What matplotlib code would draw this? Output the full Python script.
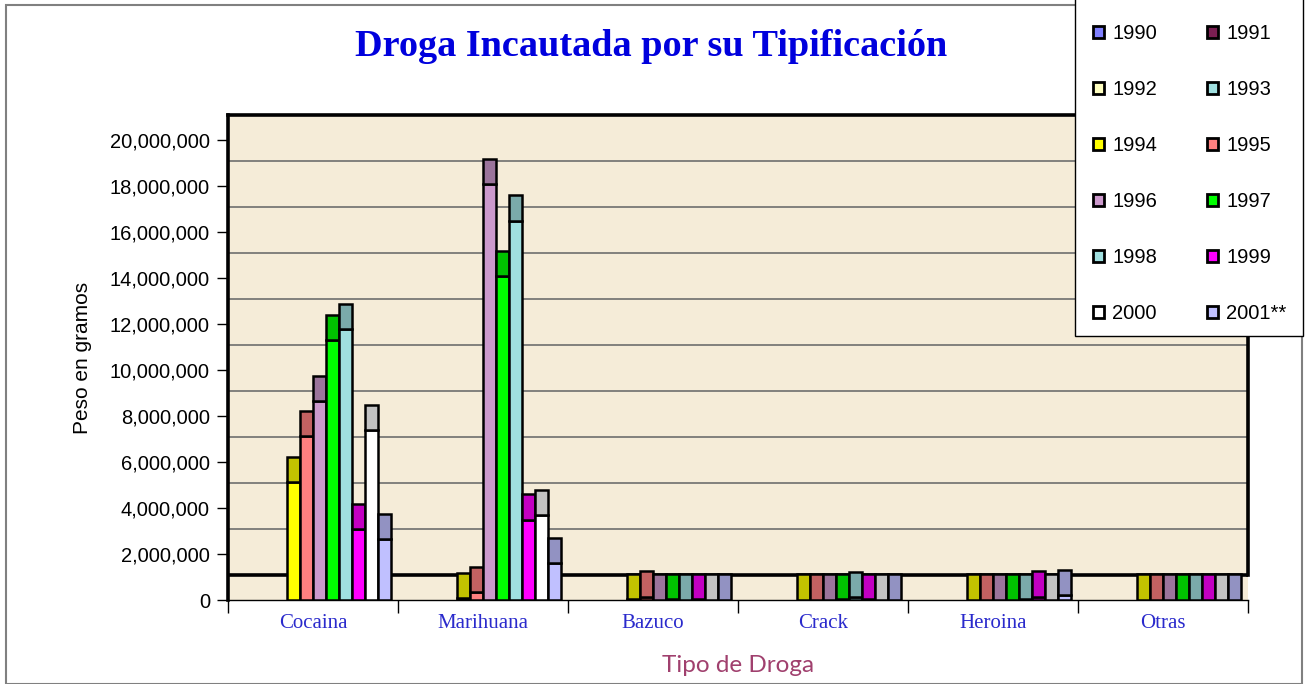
import numpy as np
import matplotlib
matplotlib.use("Agg")
import matplotlib.pyplot as plt
from matplotlib.patches import Patch, Rectangle
from matplotlib.ticker import FuncFormatter
import matplotlib.colors as mcolors

nan = np.nan
categories = ["Cocaina", "Marihuana", "Bazuco", "Crack", "Heroina", "Otras"]
years = ["1990", "1991", "1992", "1993", "1994", "1995", "1996", "1997",
         "1998", "1999", "2000", "2001**"]
colors = ["#8080FF", "#7A1F52", "#FFFFC0", "#A0E0E0", "#FFFF00", "#FF8080",
          "#CC99CC", "#00FF00", "#A0E0E0", "#FF00FF", "#FFFFFF", "#C0C0FF"]

# values in grams per year (1990-1993 have no data)
v1990 = [nan, nan, nan, nan, nan, nan]
v1991 = [nan, nan, nan, nan, nan, nan]
v1992 = [nan, nan, nan, nan, nan, nan]
v1993 = [nan, nan, nan, nan, nan, nan]
v1994 = [5130000, 100000, 30000, 20000, 20000, 20000]
v1995 = [7150000, 350000, 150000, 20000, 20000, 20000]
v1996 = [8650000, 18100000, 20000, 20000, 20000, 20000]
v1997 = [11300000, 14100000, 30000, 30000, 20000, 20000]
v1998 = [11780000, 16500000, 20000, 120000, 30000, 20000]
v1999 = [3100000, 3500000, 30000, 30000, 150000, 20000]
v2000 = [7380000, 3700000, 20000, 20000, 20000, 20000]
v2001 = [2650000, 1620000, 20000, 20000, 200000, 20000]
series = [v1990, v1991, v1992, v1993, v1994, v1995, v1996, v1997,
          v1998, v1999, v2000, v2001]
yticks = list(range(0, 20000001, 2000000))

W, H = 1306, 684
fig = plt.figure(figsize=(W / 100, H / 100), dpi=100)
fig.patch.set_facecolor("white")

# outer chart border
fig.add_artist(Rectangle((6 / W, 0), (1302 - 6) / W, 1 - 5 / H,
                         transform=fig.transFigure, fill=False,
                         edgecolor="#808080", linewidth=1.5))

ax = fig.add_axes([228 / W, 1 - 600 / H, (1248 - 228) / W, (600 - 115) / H])
wall = "#F5ECD8"
ax.set_facecolor(wall)

depth = 1090000  # pseudo-3D depth in data units
ax.set_xlim(-0.5, len(categories) - 0.5)
ax.set_ylim(0, yticks[-1] + depth)

# back-wall gridlines
for t in yticks[1:-1]:
    ax.axhline(t + depth, color="#6E6E6E", linewidth=1.2, zorder=1)
ax.axhline(depth, color="black", linewidth=2.6, zorder=1)

bw = 0.076
n = len(series)
x0 = np.arange(len(categories))
for i, vals in enumerate(series):
    c = np.array(mcolors.to_rgb(colors[i]))
    cap = tuple(c * 0.76)
    xs = x0 + (i - (n - 1) / 2) * bw
    for x, v in zip(xs, vals):
        if np.isnan(v):
            continue
        ax.bar(x, v, width=bw, color=colors[i], edgecolor="black",
               linewidth=1.8, zorder=3)
        ax.bar(x, depth, bottom=v, width=bw, color=cap, edgecolor="black",
               linewidth=1.8, zorder=3)

# spines
for s in ["top", "left"]:
    ax.spines[s].set_linewidth(2.6)
ax.spines["right"].set_visible(False)
ax.axvline(len(categories) - 0.5, ymin=depth / (yticks[-1] + depth), ymax=1,
           color="black", linewidth=2.6, clip_on=False, zorder=5)
ax.spines["bottom"].set_linewidth(1.0)

ax.set_yticks(yticks)
ax.yaxis.set_major_formatter(FuncFormatter(lambda v, p: f"{int(v):,}"))
ax.tick_params(axis="y", direction="out", length=8, width=1, pad=5,
               labelsize=14.5)
for lab in ax.get_yticklabels():
    lab.set_fontfamily("Liberation Sans")

ax.set_xticks(x0)
ax.set_xticklabels(categories, fontfamily="Liberation Serif", fontsize=15,
                   color="#2A2ACC")
ax.tick_params(axis="x", length=0, pad=10)
ax.set_xticks(np.arange(-0.5, len(categories) + 0.5, 1), minor=True)
ax.tick_params(axis="x", which="minor", direction="out", length=9, width=1)

ax.set_ylabel("Peso en gramos", fontfamily="Liberation Sans", fontsize=15,
              labelpad=13)
ax.set_xlabel("Tipo de Droga", fontfamily="Lato", fontsize=17.5,
              color="#A0406E", labelpad=16)

fig.text(651 / W, 1 - 46 / H, "Droga Incautada por su Tipificación",
         ha="center", va="center", fontfamily="Liberation Serif",
         fontweight="bold", fontsize=27.5, color="#0000DD")

# legend box
fig.add_artist(Rectangle((1075 / W, 1 - 336 / H), (1303 - 1075) / W,
                         336 / H + 0.01, transform=fig.transFigure,
                         facecolor="white", edgecolor="black",
                         linewidth=1.0, zorder=4, clip_on=False))

# legend (row-wise order in 2 columns)
handles = [Patch(facecolor=colors[i], edgecolor="black", linewidth=2.0)
           for i in range(n)]
order = list(range(0, n, 2)) + list(range(1, n, 2))
leg = fig.legend([handles[i] for i in order], [years[i] for i in order],
                 ncol=2, loc="upper left",
                 bbox_to_anchor=(1093 / W, 1 - 24 / H),
                 prop={"family": "Liberation Sans", "size": 14.5},
                 handlelength=0.55, handleheight=0.55, handletextpad=0.4,
                 labelspacing=1.84, columnspacing=2.5, borderpad=0,
                 frameon=False, borderaxespad=0)
leg.set_zorder(5)

fig.savefig("out.png", dpi=100)
